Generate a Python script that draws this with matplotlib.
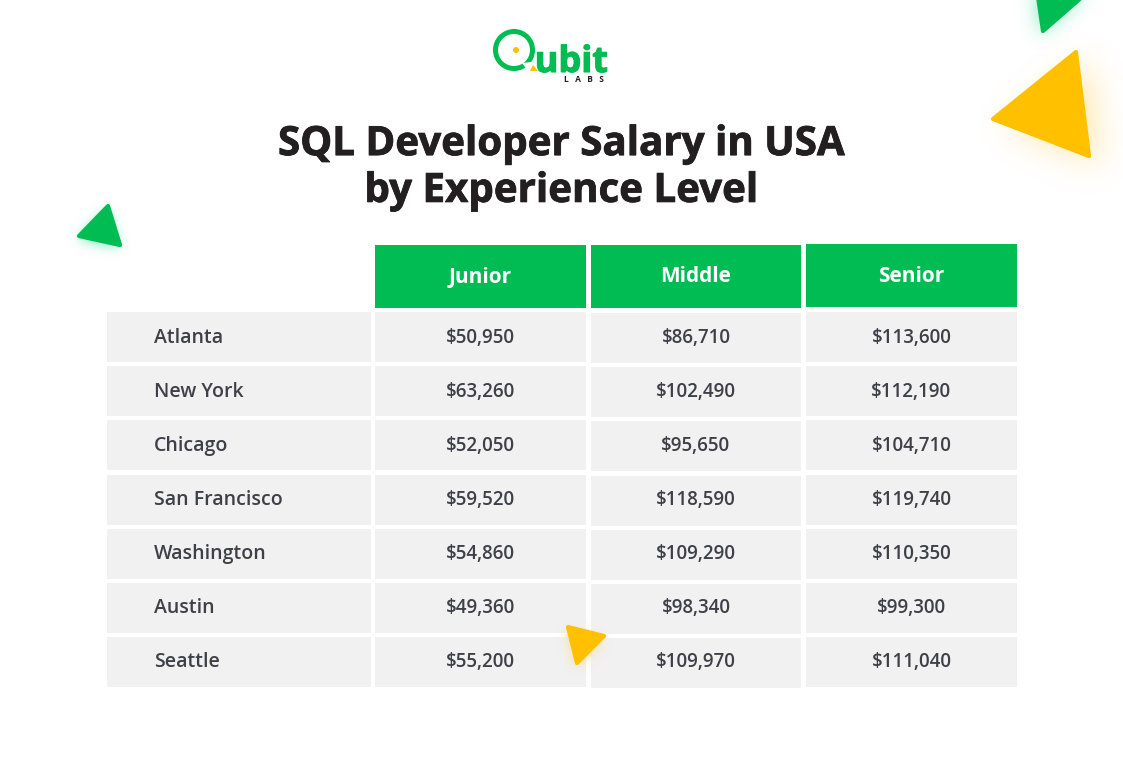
import matplotlib
matplotlib.use("Agg")
import matplotlib.pyplot as plt
import numpy as np
from matplotlib.path import Path
from matplotlib.colors import to_rgb
from matplotlib.patches import Rectangle, Polygon, Circle, Wedge
import matplotlib.patheffects as pe

cities = ["Atlanta", "New York", "Chicago", "San Francisco", "Washington", "Austin", "Seattle"]
levels = ["Junior", "Middle", "Senior"]
junior = ["$50,950", "$63,260", "$52,050", "$59,520", "$54,860", "$49,360", "$55,200"]
middle = ["$86,710", "$102,490", "$95,650", "$118,590", "$109,290", "$98,340", "$109,970"]
senior = ["$113,600", "$112,190", "$104,710", "$119,740", "$110,350", "$99,300", "$111,040"]
title = "SQL Developer Salary in USA\nby Experience Level"

GREEN = "#00BC52"
YELLOW = "#FFC000"
CELL = "#F1F1F2"
TXT = "#3F3F48"
DARK = "#231F20"
FONT = "Open Sans"

col_left = [107, 375, 591, 806]
col_right = [371, 586, 801, 1017]
row_top = [312, 366, 420, 475, 529, 583, 637]
row_text_y = [338, 392, 446, 500, 554, 608, 662]
row_h = 50
col_dy = [0, 0, 1, 0]
col_hdr_top = [245, 245, 244]
hdr_h = 63
hdr_text_y = 277

fig = plt.figure(figsize=(11.23, 7.64), dpi=100, facecolor="white")
ax = fig.add_axes([0, 0, 1, 1])
ax.set_xlim(0, 1123)
ax.set_ylim(764, 0)
ax.axis("off")


def blur_line(arr, kernel, axis):
    return np.apply_along_axis(lambda m: np.convolve(m, kernel, mode="same"), axis, arr)


def tri(points, color, glow, off, sigma, strength):
    pts = np.array(points, dtype=float)
    pad = int(sigma * 3.5) + 4
    x0, x1 = int(pts[:, 0].min()) - pad, int(pts[:, 0].max()) + pad
    y0, y1 = int(pts[:, 1].min()) - pad, int(pts[:, 1].max()) + pad
    xs, ys = np.meshgrid(np.arange(x0, x1) + 0.5, np.arange(y0, y1) + 0.5)
    mask = Path(pts + np.array(off)).contains_points(np.c_[xs.ravel(), ys.ravel()]).reshape(xs.shape).astype(float)
    r = np.arange(-pad, pad + 1)
    k = np.exp(-r ** 2 / (2 * sigma ** 2))
    k /= k.sum()
    m = blur_line(blur_line(mask, k, 0), k, 1)
    rgba = np.zeros(m.shape + (4,))
    rgba[..., :3] = to_rgb(glow)
    rgba[..., 3] = np.clip(m * strength, 0, 1)
    ax.imshow(rgba, extent=(x0, x1, y1, y0), zorder=5, interpolation="bilinear", aspect="auto")
    ax.add_patch(Polygon(points, closed=True, facecolor=color, edgecolor=color,
                         lw=3, joinstyle="round", zorder=6))


# header cells
for j, lev in enumerate(levels):
    l, r = col_left[j + 1], col_right[j + 1]
    ax.add_patch(Rectangle((l, col_hdr_top[j]), r - l, hdr_h, fc=GREEN, ec="none", zorder=1))
    ax.text((l + r) / 2, hdr_text_y, lev, color="white", fontsize=15,
            fontweight="bold", family=FONT, ha="center", va="center", zorder=2)

# body cells
columns = [cities, junior, middle, senior]
for j, col in enumerate(columns):
    l, r = col_left[j], col_right[j]
    for i, val in enumerate(col):
        t = row_top[i] + col_dy[j]
        ax.add_patch(Rectangle((l, t), r - l, row_h, fc=CELL, ec="none", zorder=1))
        if j == 0:
            ax.text(154, row_text_y[i], val, color=TXT, fontsize=14, fontweight="semibold",
                    family=FONT, ha="left", va="center", zorder=2)
        else:
            ax.text((l + r) / 2, row_text_y[i], val, color=TXT, fontsize=13.5, fontweight="semibold",
                    family=FONT, ha="center", va="center", zorder=2)

# title
ax.text(561, 168, title, color=DARK, fontsize=29, fontweight="bold", family=FONT,
        ha="center", va="center", linespacing=1.26, zorder=2,
        path_effects=[pe.withStroke(linewidth=0.6, foreground=DARK)])

# decorations
tri([(1076, 52), (1089, 156), (993, 119)], YELLOW, "#FFCF50", (12, 8), 16, 0.45)
tri([(1037, -10), (1090, -10), (1043, 31)], GREEN, "#40E0A0", (-3, 4), 9, 0.6)
tri([(108, 206), (120, 245), (79, 236)], GREEN, "#40E0A0", (-1, 3), 6, 0.7)
tri([(568, 627), (604, 636), (577, 663)], YELLOW, "#FFD050", (-1, 4), 6, 0.6)
ax.set_xlim(0, 1123)
ax.set_ylim(764, 0)

# logo
ax.add_patch(Wedge((514, 50), 21, 0, 360, width=5, fc=GREEN, ec="none", zorder=3))
ax.add_patch(Polygon([(522, 63), (531, 62), (536, 71), (528, 71)], closed=True, fc="white", ec="none", zorder=3))
ax.add_patch(Circle((516, 50), 3, fc=YELLOW, ec="none", zorder=4))
ax.add_patch(Polygon([(533, 65), (538, 71), (530, 71)], closed=True, fc=YELLOW, ec="none", zorder=4))
ax.text(571.5, 72, "ubit", color=GREEN, fontsize=26, fontweight="bold", family=FONT,
        ha="center", va="baseline", zorder=3,
        path_effects=[pe.withStroke(linewidth=0.8, foreground=GREEN)])
ax.text(583.5, 82.5, "L   A   B   S", color=DARK, fontsize=6, fontweight="bold", family=FONT,
        ha="center", va="baseline", zorder=3)

fig.savefig("out.png", dpi=100, facecolor="white")
